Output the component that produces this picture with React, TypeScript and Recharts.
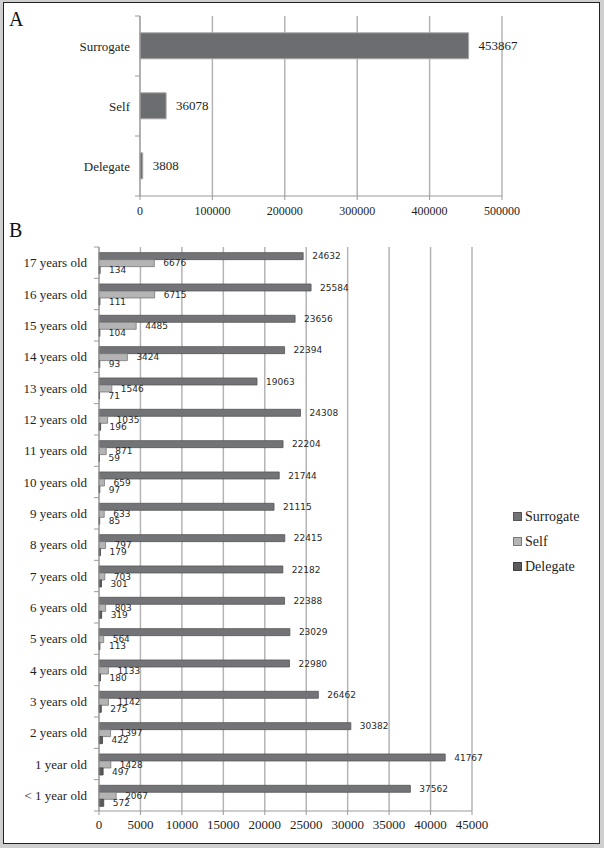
import React from "react";
import {
  BarChart,
  Bar,
  XAxis,
  YAxis,
  CartesianGrid,
  LabelList,
} from "recharts";

// Panel A — totals by consent type
const typeNames = ["Surrogate", "Self", "Delegate"];
const typeTotals = [453867, 36078, 3808];
const ticksA = [0, 100000, 200000, 300000, 400000, 500000];

// Panel B — by age, top to bottom
const ageLabels = [
  "17 years old",
  "16 years old",
  "15 years old",
  "14 years old",
  "13 years old",
  "12 years old",
  "11 years old",
  "10 years old",
  "9 years old",
  "8 years old",
  "7 years old",
  "6 years old",
  "5 years old",
  "4 years old",
  "3 years old",
  "2 years old",
  "1 year old",
  "< 1 year old",
];
const surrogateByAge = [
  24632, 25584, 23656, 22394, 19063, 24308, 22204, 21744, 21115, 22415, 22182,
  22388, 23029, 22980, 26462, 30382, 41767, 37562,
];
const selfByAge = [
  6676, 6715, 4485, 3424, 1546, 1035, 871, 659, 633, 797, 703, 803, 564, 1133,
  1142, 1397, 1428, 2067,
];
const delegateByAge = [
  134, 111, 104, 93, 71, 196, 59, 97, 85, 179, 301, 319, 113, 180, 275, 422,
  497, 572,
];
const ticksB = [0, 5000, 10000, 15000, 20000, 25000, 30000, 35000, 40000, 45000];

const SERIES = [
  { key: "surrogate", name: "Surrogate", fill: "#737477", stroke: "#555" },
  { key: "self", name: "Self", fill: "#b4b4b4", stroke: "#7a7a7a" },
  { key: "delegate", name: "Delegate", fill: "#5b5b5d", stroke: "#404040" },
];

const SERIF = "'Liberation Serif', 'Times New Roman', serif";
const GRID = "#b4b4b4";
const AXIS = "#9a9a9a";

const dataA = typeNames.map((name, i) => ({ name, value: typeTotals[i] }));
const dataB = ageLabels.map((name, i) => ({
  name,
  surrogate: surrogateByAge[i],
  self: selfByAge[i],
  delegate: delegateByAge[i],
}));

// category tick label + Excel-style tick marks on band boundaries
function makeBandTick(fontSize: number, margin: number) {
  return function BandTick(props: any) {
    const { x, y, payload, index, visibleTicksCount } = props;
    const axisX = x + margin;
    const half = payload?.offset ?? 0;
    return (
      <g>
        {half > 0 && (
          <line x1={axisX - 5} x2={axisX} y1={y - half} y2={y - half} stroke={AXIS} />
        )}
        {half > 0 && index === visibleTicksCount - 1 && (
          <line x1={axisX - 5} x2={axisX} y1={y + half} y2={y + half} stroke={AXIS} />
        )}
        <text
          x={x}
          y={y}
          dy="0.35em"
          textAnchor="end"
          fontFamily={SERIF}
          fontSize={fontSize}
          fill="#1e1e1e"
        >
          {payload.value}
        </text>
      </g>
    );
  };
}

const TickA = makeBandTick(13, 10);
const TickB = makeBandTick(13, 12);

function PanelLetter({ text, top }: { text: string; top: number }) {
  return (
    <div
      style={{
        position: "absolute",
        left: 9,
        top,
        fontFamily: SERIF,
        fontSize: 20,
        lineHeight: "20px",
        color: "#111",
      }}
    >
      {text}
    </div>
  );
}

export default function App() {
  return (
    <div
      style={{
        position: "fixed",
        left: 0,
        top: 0,
        width: 604,
        height: 848,
        background: "#cfcfcf",
      }}
    >
      <div
        style={{
          position: "absolute",
          left: 3,
          top: 2,
          width: 595,
          height: 840,
          background: "#fff",
          border: "1.5px solid #222",
        }}
      />
      <PanelLetter text="A" top={9} />
      <PanelLetter text="B" top={220} />

      <div style={{ position: "absolute", left: 0, top: 0 }}>
        <BarChart
          width={604}
          height={230}
          data={dataA}
          layout="vertical"
          margin={{ top: 16, right: 102, bottom: 0, left: 0 }}
          barCategoryGap="28%"
        >
          <CartesianGrid horizontal={false} stroke={GRID} strokeWidth={1.5} />
          <XAxis
            type="number"
            domain={[0, 500000]}
            ticks={ticksA}
            interval={0}
            height={34}
            tickSize={4}
            tickMargin={6}
            stroke={AXIS}
            tick={{ fontFamily: SERIF, fontSize: 12, fill: "#1e1e1e" }}
          />
          <YAxis
            type="category"
            dataKey="name"
            width={140}
            tickSize={0}
            tickMargin={10}
            stroke={AXIS}
            tick={TickA}
          />
          <Bar
            dataKey="value"
            fill="#6c6d70"
            stroke="#a8a8a8"
            strokeWidth={1}
            isAnimationActive={false}
          >
            <LabelList
              dataKey="value"
              position="right"
              offset={10}
              style={{ fontFamily: SERIF, fontSize: 13, fill: "#1e1e1e" }}
            />
          </Bar>
        </BarChart>
      </div>

      <div style={{ position: "absolute", left: 0, top: 230 }}>
        <BarChart
          width={604}
          height={612}
          data={dataB}
          layout="vertical"
          margin={{ top: 17, right: 132, bottom: 0, left: 0 }}
          barCategoryGap="18%"
          barGap={0}
        >
          <CartesianGrid horizontal={false} stroke={GRID} strokeWidth={1.5} />
          <XAxis
            type="number"
            domain={[0, 45000]}
            ticks={ticksB}
            interval={0}
            height={31}
            tickSize={4}
            tickMargin={5}
            stroke={AXIS}
            tick={{ fontFamily: SERIF, fontSize: 13, fill: "#1e1e1e" }}
          />
          <YAxis
            type="category"
            dataKey="name"
            width={99}
            tickSize={0}
            tickMargin={12}
            stroke={AXIS}
            tick={TickB}
          />
          {SERIES.map((s) => (
            <Bar
              key={s.key}
              dataKey={s.key}
              name={s.name}
              fill={s.fill}
              stroke={s.stroke}
              strokeWidth={0.8}
              isAnimationActive={false}
            >
              <LabelList
                dataKey={s.key}
                position="right"
                offset={9}
                style={{
                  fontFamily: "'DejaVu Sans', sans-serif",
                  fontSize: 9,
                  fill: "#2a2a2a",
                }}
              />
            </Bar>
          ))}
        </BarChart>
      </div>

      <div style={{ position: "absolute", left: 513, top: 504 }}>
        {SERIES.map((s) => (
          <div
            key={s.key}
            style={{
              display: "flex",
              alignItems: "center",
              height: 25,
              fontFamily: SERIF,
              fontSize: 14,
              color: "#1e1e1e",
            }}
          >
            <span
              style={{
                display: "inline-block",
                width: 7,
                height: 7,
                marginRight: 3,
                background: s.fill,
                border: `1px solid ${s.stroke}`,
              }}
            />
            {s.name}
          </div>
        ))}
      </div>
    </div>
  );
}
